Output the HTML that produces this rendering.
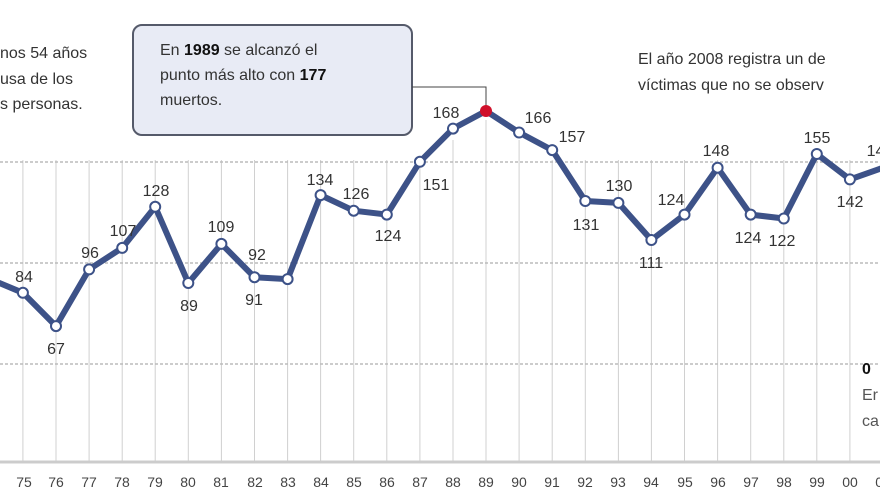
<!DOCTYPE html>
<html><head><meta charset="utf-8"><style>
html,body{margin:0;padding:0;background:#fff;}
svg{display:block;}
text{font-family:"Liberation Sans",sans-serif;}
</style></head><body>
<svg width="880" height="495" viewBox="0 0 880 495" xmlns="http://www.w3.org/2000/svg">
<rect width="880" height="495" fill="#fff"/>
<g stroke="#d0d0d0" stroke-width="1">
<line x1="22.9" y1="160" x2="22.9" y2="462"/><line x1="56" y1="160" x2="56" y2="462"/><line x1="89.1" y1="160" x2="89.1" y2="462"/><line x1="122.2" y1="160" x2="122.2" y2="462"/><line x1="155.2" y1="160" x2="155.2" y2="462"/><line x1="188.3" y1="160" x2="188.3" y2="462"/><line x1="221.4" y1="160" x2="221.4" y2="462"/><line x1="254.5" y1="160" x2="254.5" y2="462"/><line x1="287.6" y1="160" x2="287.6" y2="462"/><line x1="320.6" y1="160" x2="320.6" y2="462"/><line x1="353.7" y1="160" x2="353.7" y2="462"/><line x1="386.8" y1="160" x2="386.8" y2="462"/><line x1="419.9" y1="160" x2="419.9" y2="462"/><line x1="453" y1="140" x2="453" y2="462"/><line x1="486" y1="120" x2="486" y2="462"/><line x1="519.1" y1="140" x2="519.1" y2="462"/><line x1="552.2" y1="160" x2="552.2" y2="462"/><line x1="585.3" y1="160" x2="585.3" y2="462"/><line x1="618.4" y1="160" x2="618.4" y2="462"/><line x1="651.4" y1="160" x2="651.4" y2="462"/><line x1="684.5" y1="160" x2="684.5" y2="462"/><line x1="717.6" y1="160" x2="717.6" y2="462"/><line x1="750.7" y1="160" x2="750.7" y2="462"/><line x1="783.8" y1="160" x2="783.8" y2="462"/><line x1="816.8" y1="160" x2="816.8" y2="462"/><line x1="849.9" y1="160" x2="849.9" y2="462"/>
</g>
<g stroke="#bbb" stroke-width="1.5" stroke-dasharray="3,2">
<line x1="0" y1="162" x2="880" y2="162"/>
<line x1="0" y1="263" x2="880" y2="263"/>
<line x1="0" y1="364" x2="880" y2="364"/>
</g>
<line x1="0" y1="462" x2="880" y2="462" stroke="#ccc" stroke-width="3"/>
<!-- callout -->
<rect x="133" y="25" width="279" height="110" rx="9" fill="#e8ebf5" stroke="#555a6a" stroke-width="2"/>
<polyline points="412,87 486,87 486,111" fill="none" stroke="#444" stroke-width="1"/>
<g font-size="16" fill="#333">
<text x="160" y="55">En <tspan font-weight="bold" fill="#111">1989</tspan> se alcanzó el</text>
<text x="160" y="80">punto más alto con <tspan font-weight="bold" fill="#111">177</tspan></text>
<text x="160" y="105">muertos.</text>
<text x="0" y="58">nos 54 años</text>
<text x="0" y="84">usa de los</text>
<text x="0" y="109">s personas.</text>
<text x="638" y="64">El año 2008 registra un de</text>
<text x="638" y="90">víctimas que no se observ</text>
<text x="862" y="374" font-weight="bold" fill="#111">0</text>
<text x="862" y="400" fill="#555">Er</text>
<text x="862" y="426" fill="#555">ca</text>
</g>
<polyline fill="none" stroke="#3d5288" stroke-width="6" stroke-linejoin="round" points="-10,279 22.9,292.8 56,326.1 89.1,269.4 122.2,247.9 155.2,206.8 188.3,283 221.4,243.9 254.5,277.2 287.6,279.1 320.6,195.1 353.7,210.7 386.8,214.6 419.9,161.8 453,128.6 486,111 519.1,132.5 552.2,150.1 585.3,201 618.4,202.9 651.4,240 684.5,214.6 717.6,167.7 750.7,214.6 783.8,218.5 816.8,154 849.9,179.4 883,167.7"/>
<g fill="#fff" stroke="#3d5288" stroke-width="2">
<circle cx="22.9" cy="292.8" r="5"/><circle cx="56" cy="326.1" r="5"/><circle cx="89.1" cy="269.4" r="5"/><circle cx="122.2" cy="247.9" r="5"/><circle cx="155.2" cy="206.8" r="5"/><circle cx="188.3" cy="283" r="5"/><circle cx="221.4" cy="243.9" r="5"/><circle cx="254.5" cy="277.2" r="5"/><circle cx="287.6" cy="279.1" r="5"/><circle cx="320.6" cy="195.1" r="5"/><circle cx="353.7" cy="210.7" r="5"/><circle cx="386.8" cy="214.6" r="5"/><circle cx="419.9" cy="161.8" r="5"/><circle cx="453" cy="128.6" r="5"/><circle cx="519.1" cy="132.5" r="5"/><circle cx="552.2" cy="150.1" r="5"/><circle cx="585.3" cy="201" r="5"/><circle cx="618.4" cy="202.9" r="5"/><circle cx="651.4" cy="240" r="5"/><circle cx="684.5" cy="214.6" r="5"/><circle cx="717.6" cy="167.7" r="5"/><circle cx="750.7" cy="214.6" r="5"/><circle cx="783.8" cy="218.5" r="5"/><circle cx="816.8" cy="154" r="5"/><circle cx="849.9" cy="179.4" r="5"/>
</g>
<circle cx="486" cy="111" r="6" fill="#d0102a"/>
<g font-size="16" fill="#333" text-anchor="middle">
<text x="24" y="282">84</text><text x="56" y="354">67</text><text x="90" y="258">96</text><text x="123" y="236">107</text><text x="156" y="196">128</text><text x="189" y="311">89</text><text x="221" y="232">109</text><text x="257" y="260">92</text><text x="254" y="305">91</text><text x="320" y="185">134</text><text x="356" y="199">126</text><text x="388" y="241">124</text><text x="436" y="190">151</text><text x="446" y="118">168</text><text x="538" y="123">166</text><text x="572" y="142">157</text><text x="586" y="230">131</text><text x="619" y="191">130</text><text x="651" y="268">111</text><text x="671" y="205">124</text><text x="716" y="156">148</text><text x="748" y="243">124</text><text x="782" y="246">122</text><text x="817" y="143">155</text><text x="850" y="207">142</text><text x="880" y="156">148</text>
</g>
<g font-size="14" fill="#444" text-anchor="middle">
<text x="24" y="487">75</text><text x="56" y="487">76</text><text x="89" y="487">77</text><text x="122" y="487">78</text><text x="155" y="487">79</text><text x="188" y="487">80</text><text x="221" y="487">81</text><text x="255" y="487">82</text><text x="288" y="487">83</text><text x="321" y="487">84</text><text x="354" y="487">85</text><text x="387" y="487">86</text><text x="420" y="487">87</text><text x="453" y="487">88</text><text x="486" y="487">89</text><text x="519" y="487">90</text><text x="552" y="487">91</text><text x="585" y="487">92</text><text x="618" y="487">93</text><text x="651" y="487">94</text><text x="685" y="487">95</text><text x="718" y="487">96</text><text x="751" y="487">97</text><text x="784" y="487">98</text><text x="817" y="487">99</text><text x="850" y="487">00</text><text x="883" y="487">01</text>
</g>
</svg>
</body></html>
